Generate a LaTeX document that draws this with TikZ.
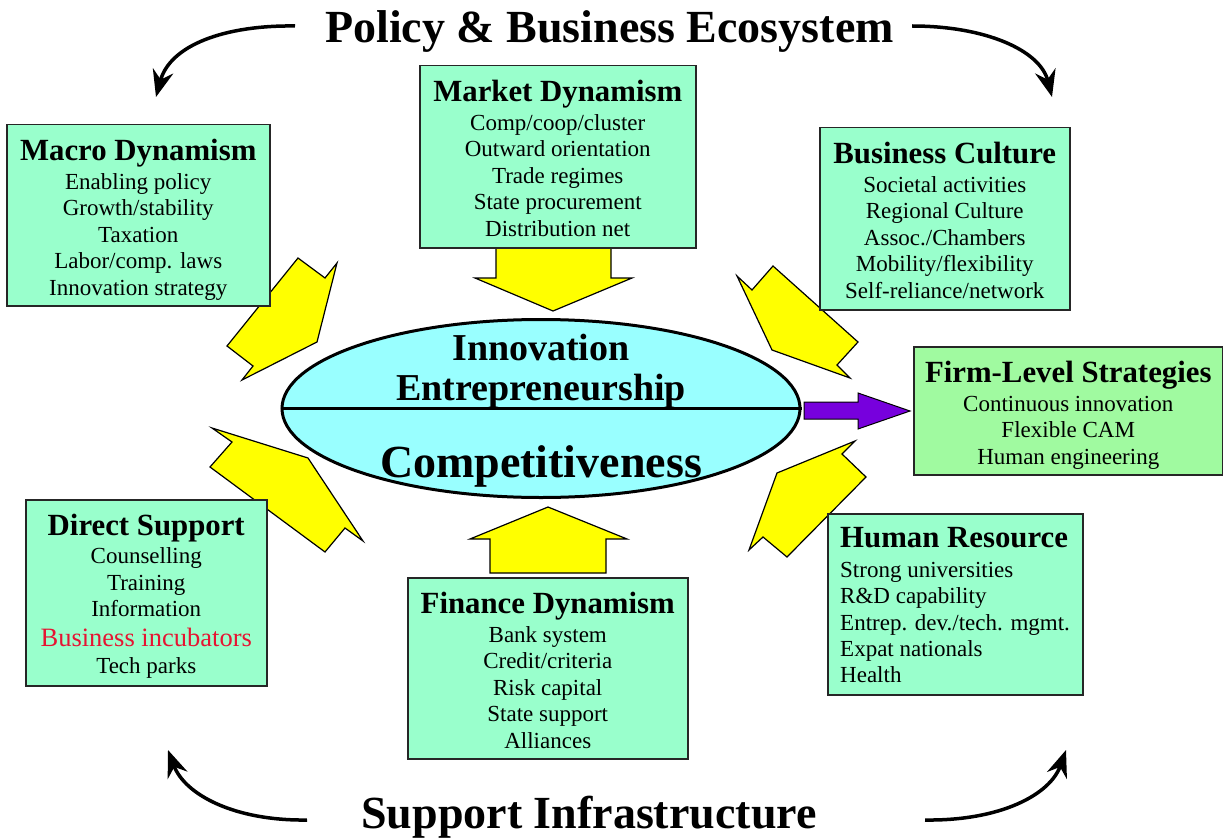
\documentclass[tikz,border=0pt]{standalone}
\usepackage{fontspec}
\setmainfont{Liberation Serif}
\usetikzlibrary{arrows.meta,shapes.geometric}

\definecolor{boxgreen}{RGB}{153,255,204}
\definecolor{firmgreen}{RGB}{160,250,160}
\definecolor{corecyan}{RGB}{153,255,255}
\definecolor{arrowyellow}{RGB}{255,255,0}
\definecolor{flowpurple}{RGB}{119,0,221}
\definecolor{incubred}{RGB}{230,20,50}

\newcommand\boxhead[1]{{\fontsize{30.8}{30.8}\selectfont\bfseries #1}}

\begin{document}
\begin{tikzpicture}[x=1pt,y=-1pt,
    infobox/.style={draw=black!85,line width=1.5pt,fill=boxgreen,anchor=north west,inner sep=0pt},
    listtext/.style={align=center,inner sep=0pt,anchor=north,font=\fontsize{23}{26.4}\selectfont},
    blockarrow/.style={draw=black,line width=1.2pt,fill=arrowyellow,line join=miter},
    bigtitle/.style={anchor=base,inner sep=0pt,font=\fontsize{46}{46}\selectfont\bfseries},
    coretext/.style={anchor=base,inner sep=0pt,font=\fontsize{38}{38}\selectfont\bfseries},
    loop/.style={line width=3.5pt,-{Stealth[length=27pt,width=21pt,inset=9pt]}}]

\useasboundingbox (0,0) rectangle (1223,840);

%Shape: yellow block arrows, drawn first so the boxes sit on top
\draw[blockarrow] (496,245) -- (611,245) -- (611,278) -- (632,278) -- (553,311) -- (475,278) -- (496,278) -- cycle;
\draw[blockarrow] (490,573) -- (606,573) -- (606,539) -- (627,539) -- (548,507) -- (470,539) -- (490,539) -- cycle;
\draw[blockarrow] (298,258) -- (325,278) -- (337,263) -- (317,342) -- (242,380) -- (253,366) -- (227,346) -- cycle;
\draw[blockarrow] (773,266) -- (858,342) -- (837,365) -- (850,378) -- (772,350) -- (737,276) -- (752,290) -- cycle;
\draw[blockarrow] (212,428) -- (308,458) -- (363,541) -- (345,528) -- (325,552) -- (210,467) -- (232,442) -- cycle;
\draw[blockarrow] (855,441) -- (842,454) -- (866,477) -- (787,557) -- (763,537) -- (749,550) -- (777,473) -- cycle;

%Shape: central ellipse
\node[ellipse,draw,line width=3pt,fill=corecyan,minimum width=518pt,minimum height=178pt,inner sep=0pt] (core) at (541,408.5) {};
\draw[line width=3pt] (core.west) -- (core.east);
\node[coretext] (inno) at (541,360) {Innovation};
\node[coretext] (entre) at (541,400) {Entrepreneurship};
\node[coretext,font=\fontsize{46}{46}\selectfont\bfseries] (comp) at (541,477) {Competitiveness};

%Shape: purple arrow to firm strategies
\draw[line width=1pt,fill=flowpurple] (804,402) -- (858,402) -- (858,393) -- (910,411) -- (858,429) -- (858,419) -- (804,419) -- cycle;

% Boxes
\node[infobox,minimum width=263pt,minimum height=181pt] (macro) at (6,124) {};
\node[listtext] (macrotxt) at ([yshift=-14.5pt]macro.north) {\boxhead{Macro Dynamism}\\[3pt]
    Enabling policy\\ Growth/stability\\ Taxation\\ Labor/comp. laws\\ Innovation strategy};

\node[infobox,minimum width=276pt,minimum height=182pt] (market) at (419,65) {};
\node[listtext] (markettxt) at ([yshift=-14.5pt]market.north) {\boxhead{Market Dynamism}\\[3pt]
    Comp/coop/cluster\\ Outward orientation\\ Trade regimes\\ State procurement\\ Distribution net};

\node[infobox,minimum width=250pt,minimum height=182pt] (culture) at (819,127) {};
\node[listtext] (culturetxt) at ([yshift=-14.5pt]culture.north) {\boxhead{Business Culture}\\[3pt]
    Societal activities\\ Regional Culture\\ Assoc./Chambers\\ Mobility/flexibility\\ Self-reliance/network};

\node[infobox,fill=firmgreen,minimum width=309pt,minimum height=128pt] (firm) at (913,346) {};
\node[listtext] (firmtxt) at ([yshift=-14.5pt]firm.north) {\boxhead{Firm-Level Strategies}\\[3pt]
    Continuous innovation\\ Flexible CAM\\ Human engineering};

\node[infobox,minimum width=241pt,minimum height=186pt] (direct) at (25,499) {};
\node[listtext] (directtxt) at ([yshift=-15pt]direct.north) {\boxhead{Direct Support}\\[2pt]
    Counselling\\ Training\\ Information\\[3pt]
    {\color{incubred}\fontsize{26.5}{26.5}\selectfont Business incubators}\\[0.5pt] Tech parks};

\node[infobox,minimum width=280pt,minimum height=181pt] (finance) at (407,577) {};
\node[listtext] (financetxt) at ([yshift=-14.5pt]finance.north) {\boxhead{Finance Dynamism}\\[3pt]
    Bank system\\ Credit/criteria\\ Risk capital\\ State support\\ Alliances};

\node[infobox,minimum width=255pt,minimum height=181pt] (human) at (827,513) {};
\node[listtext,align=left,anchor=north west] (humantxt) at ([xshift=13pt,yshift=-14.5pt]human.north west) {\boxhead{Human Resource}\\[3pt]
    Strong universities\\ R\&D capability\\ Entrep. dev./tech. mgmt.\\ Expat nationals\\ Health};

% Text Node: titles
\node[bigtitle] (policy) at (609.5,43) {Policy \& Business Ecosystem};
\node[bigtitle] (support) at (589,828) {Support Infrastructure};

%Curved arrows round the titles
\coordinate (tlstart) at (295,26);
\coordinate (tlend) at (156,97);
\coordinate (trstart) at (912,26);
\coordinate (trend) at (1052,97);
\coordinate (blstart) at (307,820);
\coordinate (blend) at (168,750);
\coordinate (brstart) at (925,820);
\coordinate (brend) at (1066,750);
\draw[loop] (tlstart) .. controls (225,25) and (170,45) .. (tlend);
\draw[loop] (trstart) .. controls (985,26) and (1040,50) .. (trend);
\draw[loop] (blstart) .. controls (235,821) and (185,795) .. (blend);
\draw[loop] (brstart) .. controls (1000,821) and (1050,795) .. (brend);
\end{tikzpicture}
\end{document}
